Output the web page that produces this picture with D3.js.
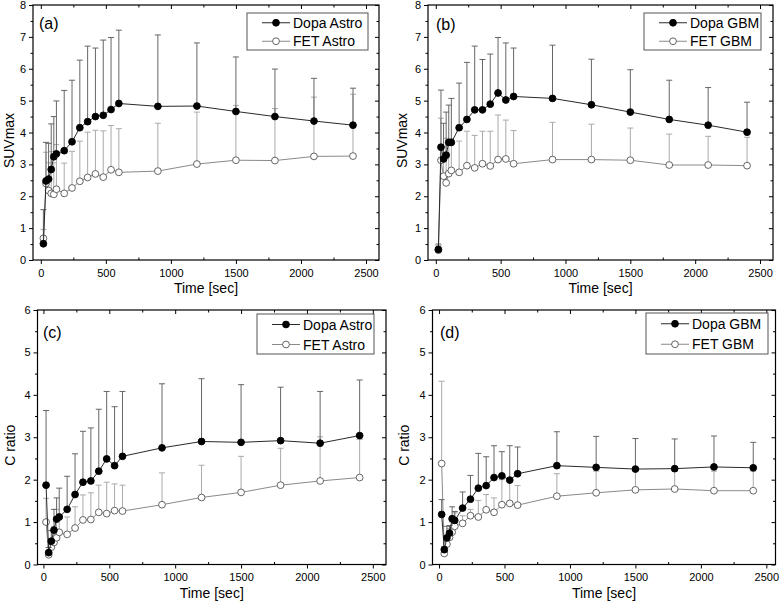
<!DOCTYPE html>
<html>
<head>
<meta charset="utf-8">
<script src="https://cdn.jsdelivr.net/npm/d3@7"></script>
<style>
  html, body { margin: 0; padding: 0; background: #fff; }
  svg { display: block; }
  text { font-family: "Liberation Sans", Arial, sans-serif; fill: #000; }
</style>
</head>
<body>
<svg id="chart" width="780" height="607"></svg>
<script>
// ---------------- DATA ----------------
const time = [20, 40, 60, 80, 100, 120, 180, 240, 300, 360, 420, 480, 540, 600, 900, 1200, 1500, 1800, 2100, 2400];

// (a) SUVmax, astrocytoma
const dopaAstroSUV      = [0.51, 2.48, 2.54, 2.84, 3.24, 3.33, 3.43, 3.71, 4.15, 4.34, 4.50, 4.54, 4.72, 4.91, 4.82, 4.83, 4.66, 4.50, 4.36, 4.23];
const dopaAstroSUVUpper = [1.58, 3.69, 3.66, 4.27, 4.50, 4.99, 5.32, 5.64, 6.27, 6.71, 6.65, 6.90, 6.98, 7.21, 7.06, 6.81, 6.37, 5.99, 5.70, 5.39];
const fetAstroSUV       = [0.68, 2.40, 2.18, 2.09, 2.06, 2.22, 2.09, 2.26, 2.47, 2.59, 2.70, 2.60, 2.83, 2.75, 2.79, 3.01, 3.13, 3.12, 3.25, 3.26];
const fetAstroSUVUpper  = [0.96, 3.38, 3.05, 3.40, 3.05, 3.62, 3.04, 3.41, 3.73, 4.01, 4.07, 4.05, 4.22, 4.12, 4.29, 4.64, 4.85, 4.75, 5.11, 5.20];

// (b) SUVmax, GBM
const dopaGBMSUV      = [0.33, 3.54, 3.17, 3.29, 3.69, 3.69, 4.15, 4.41, 4.71, 4.71, 4.89, 5.24, 5.02, 5.13, 5.07, 4.87, 4.64, 4.41, 4.23, 4.01];
const dopaGBMSUVUpper = [0.50, 5.33, 4.29, 4.64, 4.86, 5.07, 5.55, 6.20, 6.71, 6.29, 6.46, 6.98, 6.81, 6.65, 6.74, 6.30, 5.97, 5.64, 5.41, 4.95];
const fetGBMSUV       = [0.31, 3.13, 2.63, 2.42, 2.71, 2.81, 2.75, 2.96, 2.89, 3.02, 2.95, 3.15, 3.17, 3.02, 3.15, 3.15, 3.13, 2.98, 2.98, 2.96];
const fetGBMSUVUpper  = [0.45, 4.45, 3.55, 3.82, 3.80, 3.80, 3.73, 4.04, 3.91, 4.04, 4.04, 4.55, 4.39, 4.06, 4.32, 4.26, 4.14, 3.95, 3.88, 3.85];

// (c) C ratio, astrocytoma
const dopaAstroC      = [1.87, 0.28, 0.55, 0.81, 1.07, 1.12, 1.30, 1.65, 1.94, 1.97, 2.20, 2.49, 2.33, 2.55, 2.75, 2.90, 2.88, 2.92, 2.86, 3.04];
const dopaAstroCUpper = [3.63, 0.40, 0.80, 1.30, 1.57, 1.80, 2.08, 2.61, 3.14, 3.22, 3.66, 4.08, 3.72, 4.08, 4.26, 4.38, 4.24, 4.18, 4.08, 4.35];
const fetAstroC       = [1.00, 0.23, 0.41, 0.52, 0.63, 0.76, 0.71, 0.86, 1.05, 1.06, 1.23, 1.20, 1.27, 1.26, 1.41, 1.58, 1.70, 1.87, 1.97, 2.05];
const fetAstroCUpper  = [1.56, 0.32, 0.60, 0.90, 1.30, 1.10, 1.12, 1.36, 1.64, 1.69, 1.87, 1.94, 1.90, 1.87, 2.16, 2.34, 2.55, 2.74, 3.01, 2.95];

// (d) C ratio, GBM
const dopaGBMC      = [1.18, 0.35, 0.63, 0.74, 1.08, 1.04, 1.33, 1.54, 1.80, 1.86, 2.05, 2.09, 1.99, 2.14, 2.33, 2.29, 2.25, 2.26, 2.30, 2.28];
const dopaGBMCUpper = [1.53, 0.42, 0.90, 0.92, 1.36, 1.25, 1.71, 2.10, 2.62, 2.54, 2.80, 2.66, 2.80, 2.77, 3.13, 3.02, 2.97, 2.96, 3.03, 2.88];
const fetGBMC       = [2.38, 0.26, 0.48, 0.64, 0.76, 0.90, 0.97, 1.15, 1.12, 1.29, 1.23, 1.41, 1.44, 1.40, 1.61, 1.69, 1.76, 1.78, 1.74, 1.74];
const fetGBMCUpper  = [4.32, 0.35, 0.62, 0.85, 1.00, 1.22, 1.15, 1.30, 1.51, 1.65, 1.57, 2.00, 1.98, 1.86, 2.14, 2.20, 2.20, 2.20, 2.20, 2.20];

const xMajorTicks = [0, 500, 1000, 1500, 2000, 2500];
const xMinorTicks = [250, 750, 1250, 1750, 2250];
const suvTicks = [0, 1, 2, 3, 4, 5, 6, 7, 8];
const ratioTicks = [0, 1, 2, 3, 4, 5, 6];
const panelLabels = ["(a)", "(b)", "(c)", "(d)"];
const yTitles = ["SUVmax", "SUVmax", "C ratio", "C ratio"];
const xTitle = "Time [sec]";
const legendNames = [["Dopa Astro", "FET Astro"], ["Dopa GBM", "FET GBM"], ["Dopa Astro", "FET Astro"], ["Dopa GBM", "FET GBM"]];

// ---------------- LAYOUT ----------------
const panels = [
  { left: 33,    right: 379,   top: 5,   bottom: 260,   xDom: [-60, 2600], yTicks: suvTicks, yTitleX: 14,
    dopa: [dopaAstroSUV, dopaAstroSUVUpper], fet: [fetAstroSUV, fetAstroSUVUpper],
    legend: { x0: 247, y0: 13, x1: 368, y1: 50 }, lab: [39, 29] },
  { left: 428,   right: 773,   top: 5,   bottom: 260,   xDom: [-60, 2600], yTicks: suvTicks, yTitleX: 407,
    dopa: [dopaGBMSUV, dopaGBMSUVUpper], fet: [fetGBMSUV, fetGBMSUVUpper],
    legend: { x0: 644, y0: 13, x1: 761, y1: 50 }, lab: [436, 30] },
  { left: 37.5,  right: 386,   top: 310, bottom: 564.5, xDom: [-45, 2600], yTicks: ratioTicks, yTitleX: 15,
    dopa: [dopaAstroC, dopaAstroCUpper], fet: [fetAstroC, fetAstroCUpper],
    legend: { x0: 257, y0: 314, x1: 374, y1: 354 }, lab: [43, 338] },
  { left: 432.5, right: 775.5, top: 310, bottom: 564.5, xDom: [-50, 2570], yTicks: ratioTicks, yTitleX: 409,
    dopa: [dopaGBMC, dopaGBMCUpper], fet: [fetGBMC, fetGBMCUpper],
    legend: { x0: 646, y0: 313, x1: 768, y1: 354 }, lab: [440, 338] }
];

const style = {
  dopa: { line: "#2a2a2a", err: "#666", fill: "#000", stroke: "#000" },
  fet:  { line: "#8a8a8a", err: "#aaa", fill: "#fff", stroke: "#555" }
};
const R = 3.4;

const svg = d3.select("#chart");

panels.forEach((p, i) => {
  const yMax = d3.max(p.yTicks);
  const x = d3.scaleLinear().domain(p.xDom).range([p.left, p.right]);
  const y = d3.scaleLinear().domain([0, yMax]).range([p.bottom, p.top]);
  const yMinor = d3.range(0.5, yMax, 1);
  const g = svg.append("g");

  // axes
  g.append("g").attr("transform", `translate(0,${p.bottom})`)
    .call(d3.axisBottom(x).tickValues(xMajorTicks).tickSize(4).tickPadding(5).tickFormat(d3.format("d")));
  g.append("g").attr("transform", `translate(0,${p.bottom})`)
    .call(d3.axisBottom(x).tickValues(xMinorTicks).tickSize(-2.5).tickFormat(""));
  g.append("g").attr("transform", `translate(${p.left},0)`)
    .call(d3.axisLeft(y).tickValues(p.yTicks).tickSize(4).tickPadding(3).tickFormat(d3.format("d")));
  g.append("g").attr("transform", `translate(${p.left},0)`)
    .call(d3.axisLeft(y).tickValues(yMinor).tickSize(2.5).tickFormat(""));
  g.append("g").attr("transform", `translate(0,${p.top})`)
    .call(d3.axisTop(x).tickValues(xMajorTicks).tickSize(-4).tickFormat(""));
  g.append("g").attr("transform", `translate(0,${p.top})`)
    .call(d3.axisTop(x).tickValues(xMinorTicks).tickSize(-2.5).tickFormat(""));
  g.append("g").attr("transform", `translate(${p.right},0)`)
    .call(d3.axisRight(y).tickValues(p.yTicks).tickSize(-4).tickFormat(""));
  g.append("g").attr("transform", `translate(${p.right},0)`)
    .call(d3.axisRight(y).tickValues(yMinor).tickSize(-2.5).tickFormat(""));
  g.selectAll(".domain").remove();
  g.selectAll(".tick line").attr("stroke", "#000").attr("stroke-width", 1);
  g.selectAll(".tick text").style("font-size", "11px").style("font-family", "'Liberation Sans', Arial, sans-serif");

  // frame
  g.append("rect").attr("x", p.left).attr("y", p.top)
    .attr("width", p.right - p.left).attr("height", p.bottom - p.top)
    .attr("fill", "none").attr("stroke", "#000").attr("stroke-width", 1.2);

  // titles
  g.append("text").attr("x", (p.left + p.right) / 2).attr("y", p.bottom + 33)
    .attr("text-anchor", "middle").style("font-size", "14px").text(xTitle);
  g.append("text")
    .attr("transform", `translate(${p.yTitleX},${(p.top + p.bottom) / 2 + 8}) rotate(-90)`)
    .attr("text-anchor", "middle").style("font-size", "14px").text(yTitles[i]);
  g.append("text").attr("x", p.lab[0]).attr("y", p.lab[1]).style("font-size", "16px").text(panelLabels[i]);

  // series: FET first, Dopa on top
  const seriesList = [["fet", p.fet], ["dopa", p.dopa]];
  seriesList.forEach(([key, [vals, ups]]) => {
    const st = style[key];
    const pts = time.map((t, k) => ({ t, v: vals[k], u: ups[k] }));
    const eg = g.append("g");
    eg.selectAll("line.eb").data(pts).join("line").attr("class", "eb")
      .attr("x1", d => x(d.t)).attr("x2", d => x(d.t))
      .attr("y1", d => y(d.v)).attr("y2", d => y(d.u))
      .attr("stroke", st.err).attr("stroke-width", 1);
    eg.selectAll("line.cap").data(pts).join("line").attr("class", "cap")
      .attr("x1", d => x(d.t) - 3).attr("x2", d => x(d.t) + 3)
      .attr("y1", d => y(d.u)).attr("y2", d => y(d.u))
      .attr("stroke", st.err).attr("stroke-width", 1);
    g.append("path").datum(pts)
      .attr("d", d3.line().x(d => x(d.t)).y(d => y(d.v)))
      .attr("fill", "none").attr("stroke", st.line).attr("stroke-width", 1);
    g.append("g").selectAll("circle").data(pts).join("circle")
      .attr("cx", d => x(d.t)).attr("cy", d => y(d.v)).attr("r", R)
      .attr("fill", st.fill).attr("stroke", st.stroke).attr("stroke-width", 0.9);
  });

  // legend
  const L = p.legend;
  g.append("rect").attr("x", L.x0).attr("y", L.y0).attr("width", L.x1 - L.x0).attr("height", L.y1 - L.y0)
    .attr("fill", "#fff").attr("stroke", "#555").attr("stroke-width", 1);
  const rowH = (L.y1 - L.y0) / 2;
  ["dopa", "fet"].forEach((key, j) => {
    const st = style[key];
    const cy = L.y0 + rowH * (j + 0.5) + 0.5;
    const lx0 = L.x0 + 15, lx1 = L.x0 + 43;
    g.append("line").attr("x1", lx0).attr("x2", lx1).attr("y1", cy).attr("y2", cy)
      .attr("stroke", st.line).attr("stroke-width", 1);
    g.append("circle").attr("cx", (lx0 + lx1) / 2).attr("cy", cy).attr("r", R)
      .attr("fill", st.fill).attr("stroke", st.stroke).attr("stroke-width", 0.9);
    g.append("text").attr("x", lx1 + 3).attr("y", cy + 5).style("font-size", "14px").text(legendNames[i][j]);
  });
});
</script>
</body>
</html>
